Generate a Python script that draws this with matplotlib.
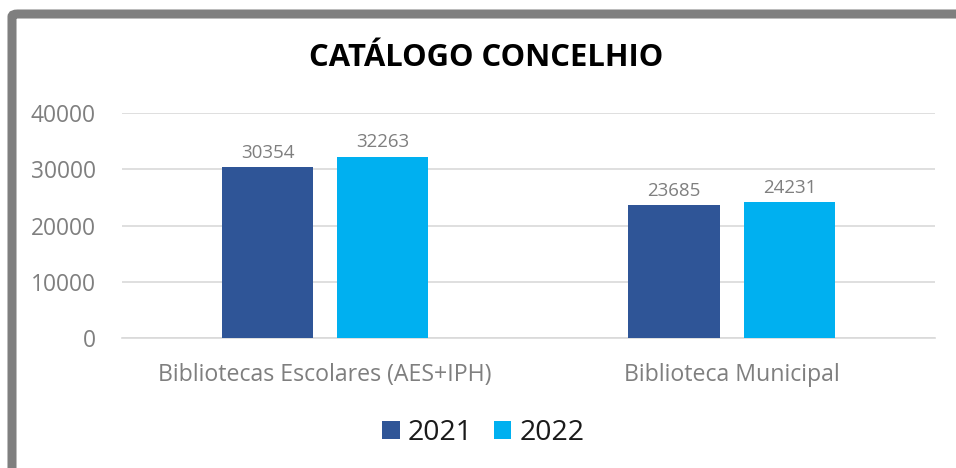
import matplotlib.pyplot as plt
import numpy as np
from matplotlib.patches import FancyBboxPatch

categorias = ['Bibliotecas Escolares (AES+IPH)', 'Biblioteca Municipal']
anos = ['2021', '2022']
valores_2021 = [30354, 23685]
valores_2022 = [32263, 24231]
cores = ['#2F5597', '#00B0F0']

plt.rcParams['font.family'] = ['Open Sans', 'DejaVu Sans']

fig = plt.figure(figsize=(9.56, 4.68), dpi=100)
ax = fig.add_axes([0.1276, 0.2778, 0.8504, 0.4807])

x = np.arange(len(categorias))
w = 0.224
off = 0.142
b1 = ax.bar(x - off, valores_2021, w, color=cores[0], label=anos[0], zorder=3)
b2 = ax.bar(x + off, valores_2022, w, color=cores[1], label=anos[1], zorder=3)

for barras in (b1, b2):
    for b in barras:
        ax.text(b.get_x() + b.get_width() / 2, b.get_height() + 900,
                str(int(b.get_height())), ha='center', va='bottom',
                fontsize=13.5, color='#7F7F7F')

ax.set_xlim(-0.5, 1.5)
ax.set_ylim(0, 40000)
ax.set_yticks([0, 10000, 20000, 30000, 40000])
ax.set_xticks(x)
ax.set_xticklabels(categorias, fontsize=16.7)
ax.yaxis.grid(True, color='#D9D9D9', linewidth=1.2, zorder=0)
for s in ['top', 'right', 'left']:
    ax.spines[s].set_visible(False)
ax.spines['bottom'].set_color('#D9D9D9')
ax.spines['bottom'].set_linewidth(1.2)
ax.tick_params(axis='both', length=0, colors='#7F7F7F')
ax.tick_params(axis='y', labelsize=16.4, pad=19)
ax.tick_params(axis='x', pad=18)

fig.text(0.508, 0.876, 'CATÁLOGO CONCELHIO', ha='center', va='center',
         fontsize=22.3, fontweight='bold', color='black')

fig.legend(handles=[b1, b2], labels=anos, loc='center', bbox_to_anchor=(0.506, 0.074),
           ncol=2, frameon=False, fontsize=20.5, handlelength=0.6, handleheight=0.6,
           handletextpad=0.3, columnspacing=0.75, labelcolor='#1A1A1A')

borda = FancyBboxPatch((12 / 956, -0.2), 1.1, 1.2 - 14 / 468,
                       boxstyle='round,pad=0,rounding_size=0.006',
                       transform=fig.transFigure, facecolor='none',
                       edgecolor='#7F7F7F', linewidth=6.5, clip_on=False)
fig.patches.append(borda)

fig.savefig('out.png', dpi=100)
